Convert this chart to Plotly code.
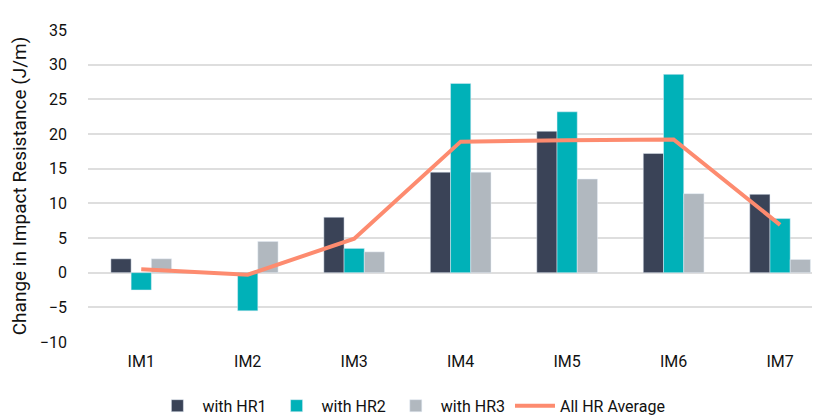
import plotly.graph_objects as go

categories = ["IM1", "IM2", "IM3", "IM4", "IM5", "IM6", "IM7"]
hr1 = [2.0, 0.0, 8.0, 14.5, 20.4, 17.2, 11.3]
hr2 = [-2.5, -5.5, 3.5, 27.3, 23.2, 28.6, 7.8]
hr3 = [2.0, 4.5, 3.0, 14.5, 13.5, 11.4, 1.9]
avg = [0.5, -0.3, 4.9, 18.9, 19.1, 19.2, 6.9]

FONT = "Roboto, sans-serif"

fig = go.Figure()
fig.add_trace(go.Bar(x=categories, y=hr1, name="with HR1", marker_color="#3a4357"))
fig.add_trace(go.Bar(x=categories, y=hr2, name="with HR2", marker_color="#00b1b8"))
fig.add_trace(go.Bar(x=categories, y=hr3, name="with HR3", marker_color="#b1b8bf"))
fig.add_trace(
    go.Scatter(
        x=categories,
        y=avg,
        name="All HR Average",
        mode="lines",
        line=dict(color="#fd8b6f", width=4),
    )
)

fig.update_layout(
    width=820,
    height=415,
    margin=dict(l=80, r=0, t=22, b=72),
    plot_bgcolor="white",
    paper_bgcolor="white",
    font=dict(family=FONT, size=16, color="#111111"),
    barmode="group",
    bargap=0.43,
    bargroupgap=0,
    legend=dict(
        orientation="h",
        x=0.437,
        xanchor="center",
        y=-0.15,
        yanchor="top",
        font=dict(size=16),
        itemwidth=40,
        traceorder="normal",
    ),
)
fig.update_xaxes(
    range=[-0.5, 6.45],
    showgrid=False,
    showline=False,
    ticks="",
    ticklabelstandoff=8,
)
fig.update_yaxes(
    range=[-10, 35],
    dtick=5,
    showgrid=True,
    gridcolor="#dedede",
    gridwidth=1.5,
    zeroline=True,
    zerolinecolor="#dedede",
    zerolinewidth=1.5,
    showline=False,
    ticks="",
    tickformat="d",
    ticklabelstandoff=20,
    title=dict(text="Change in Impact Resistance (J/m)", standoff=8),
)

fig.write_html("out.html")
